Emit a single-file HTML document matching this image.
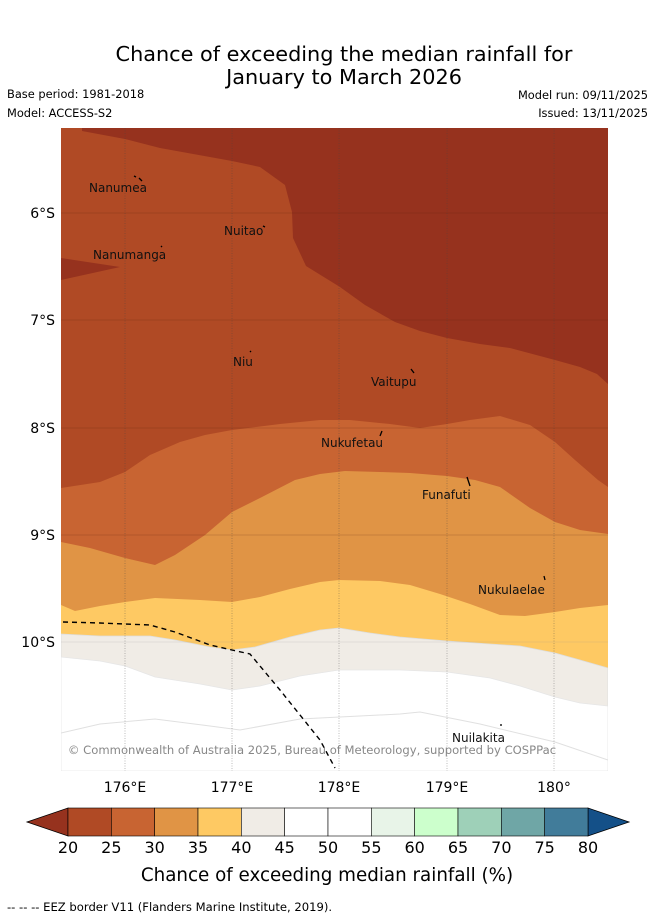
<!DOCTYPE html>
<html><head><meta charset="utf-8"><style>
body{margin:0;background:#fff;font-family:"Liberation Sans","DejaVu Sans",sans-serif;}
svg{display:block}
</style></head><body>
<svg width="655" height="919" viewBox="0 0 655 919" xmlns="http://www.w3.org/2000/svg" font-family="DejaVu Sans, Liberation Sans, sans-serif">
<text x="344" y="61" font-size="20.8" text-anchor="middle">Chance of exceeding the median rainfall for</text>
<text x="344" y="84" font-size="20.8" text-anchor="middle">January to March 2026</text>
<text x="7" y="98" font-size="11.4">Base period: 1981-2018</text>
<text x="7" y="117" font-size="11.4">Model: ACCESS-S2</text>
<text x="648" y="99" font-size="11.4" text-anchor="end">Model run: 09/11/2025</text>
<text x="648" y="117" font-size="11.4" text-anchor="end">Issued: 13/11/2025</text>
<defs><clipPath id="mc"><rect x="61" y="128" width="547" height="643"/></clipPath></defs>
<g clip-path="url(#mc)">
<rect x="61" y="128" width="547" height="643" fill="#96321e"/>
<polygon fill="#b04a25" points="61,128 82,128 82,131 125,139 160,148 232,161 260,167 285,185 292,212 293,238 306,266 340,287 365,305 395,322 420,331 447,338 480,344 510,348 555,360 580,367 597,374 608,384 608,771 61,771"/>
<polygon fill="#96321e" points="61,258 120,267 61,280"/>
<polygon fill="#c86432" points="61,488 100,482 125,472 150,455 180,442 205,435 232,430 280,424 320,420 350,420 390,424 420,428 447,424 470,420 500,416 530,425 555,442 575,460 598,480 608,487 608,771 61,771"/>
<polygon fill="#e09445" points="61,542 90,548 125,558 155,565 175,555 205,535 232,512 260,498 295,480 320,474 345,471 380,472 410,473 447,476 475,480 500,487 530,508 555,522 580,530 608,534 608,771 61,771"/>
<polygon fill="#fec963" points="61,605 75,611 100,606 125,602 155,598 200,600 232,602 260,597 290,589 320,582 339,580 380,581 410,585 440,594 470,604 500,615 525,616 555,612 580,608 608,605 608,771 61,771"/>
<polygon fill="#f0ece6" stroke="#ddd" stroke-width="0.8" points="61,634 100,636 150,636 175,640 210,647 232,650 255,647 290,637 320,630 339,628 370,633 400,637 447,641 490,644 520,646 555,653 580,660 608,668 608,771 61,771"/>
<polygon fill="#ffffff" stroke="#e6e6e6" stroke-width="0.8" points="61,657 100,661 125,666 155,677 200,684 232,690 260,686 300,676 339,670 400,670 447,672 490,678 520,686 555,697 580,703 608,706 608,771 61,771"/>
<polyline fill="none" stroke="#e0e0e0" stroke-width="1" points="61,733 100,724 155,719 210,726 240,730 300,719 400,714 420,712 480,724 555,742 608,760"/>
<g stroke="#4a1a0a" stroke-width="0.6" stroke-opacity="0.35">
<line x1="61" y1="213" x2="608" y2="213"/><line x1="61" y1="320" x2="608" y2="320"/><line x1="61" y1="428" x2="608" y2="428"/><line x1="61" y1="535" x2="608" y2="535"/><line x1="61" y1="642" x2="608" y2="642" stroke="#999"/>
</g>
<g stroke="#444" stroke-width="0.7" stroke-dasharray="1,1.5" stroke-opacity="0.5">
<line x1="125" y1="128" x2="125" y2="771"/><line x1="232" y1="128" x2="232" y2="771"/><line x1="339" y1="128" x2="339" y2="771"/><line x1="447" y1="128" x2="447" y2="771"/><line x1="554" y1="128" x2="554" y2="771"/>
</g>
<polyline fill="none" stroke="#000" stroke-width="1.4" stroke-dasharray="5,4" points="63,622 100,623 150,625 175,632 210,645 232,650 250,654 280,690 320,740 335,768"/>
<g stroke="#000" stroke-width="1.3">
<line x1="134" y1="176" x2="136" y2="177"/><line x1="139" y1="178" x2="142" y2="181"/><line x1="263" y1="226" x2="265" y2="227"/><line x1="161" y1="246" x2="162" y2="247"/><line x1="250" y1="352" x2="251" y2="351"/><line x1="411" y1="369" x2="414" y2="373"/><line x1="380" y1="436" x2="382" y2="431"/><line x1="467" y1="477" x2="470" y2="486"/><line x1="544" y1="576" x2="545" y2="580"/><line x1="500" y1="725" x2="502" y2="725"/>
</g>
<g font-size="12" fill="#111">
<text x="89" y="192">Nanumea</text><text x="224" y="235">Nuitao</text><text x="93" y="259">Nanumanga</text><text x="233" y="366">Niu</text><text x="371" y="386">Vaitupu</text><text x="321" y="447">Nukufetau</text><text x="422" y="499">Funafuti</text><text x="478" y="594">Nukulaelae</text><text x="452" y="742">Nuilakita</text>
</g>
<text x="312" y="754" font-size="11.6" fill="#888" text-anchor="middle">© Commonwealth of Australia 2025, Bureau of Meteorology, supported by COSPPac</text>
</g>
<g font-size="14" text-anchor="end">
<text x="55" y="218">6°S</text><text x="55" y="325">7°S</text><text x="55" y="433">8°S</text><text x="55" y="540">9°S</text><text x="55" y="647">10°S</text>
</g>
<g font-size="14" text-anchor="middle">
<text x="125" y="792">176°E</text><text x="232" y="792">177°E</text><text x="339" y="792">178°E</text><text x="447" y="792">179°E</text><text x="554" y="792">180°</text>
</g>
<g id="cb"></g>
<text x="327" y="881" font-size="18.3" text-anchor="middle">Chance of exceeding median rainfall (%)</text>
<text x="7" y="911" font-size="11.6">--  --  -- EEZ border V11 (Flanders Marine Institute, 2019).</text>
</svg>
<script>
const cbColors=["#b04a25","#c86432","#e09445","#fec963","#f0ece6","#ffffff","#ffffff","#e8f4e8","#ccffcc","#9ed0b8","#6fa6a6","#417c9a"];
const cbTicks=[20,25,30,35,40,45,50,55,60,65,70,75,80];
const ns="http://www.w3.org/2000/svg",g=document.getElementById('cb');
const x0=68,x1=588,y0=808,h=28,w=(x1-x0)/cbColors.length;
function mk(t,a){const e=document.createElementNS(ns,t);for(const k in a)e.setAttribute(k,a[k]);g.appendChild(e);return e;}
const lt=mk('polygon',{points:`27,822 ${x0},${y0} ${x0},${y0+h}`,fill:'#96321e',stroke:'#000','stroke-width':0.8});


const rt=mk('polygon',{points:`629,822 ${x1},${y0} ${x1},${y0+h}`,fill:'#145088',stroke:'#000','stroke-width':0.8});


cbColors.forEach((c,i)=>{const r=mk('rect',{x:x0+i*w,y:y0,width:w,height:h,fill:c,stroke:'#000','stroke-width':0.6});

});
cbTicks.forEach((t,i)=>{const tx=mk('text',{x:x0+i*w,y:853,'font-size':16,'text-anchor':'middle'});tx.textContent=t;

});
</script>
</body></html>
